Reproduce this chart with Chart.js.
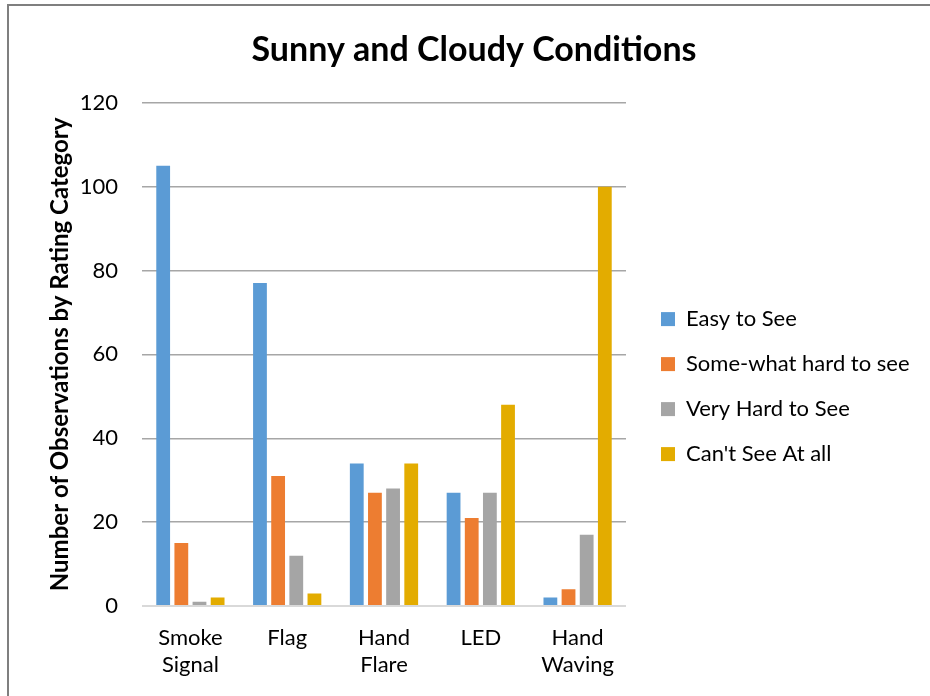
<!DOCTYPE html>
<html>
<head>
<meta charset="utf-8">
<script src="https://cdn.jsdelivr.net/npm/chart.js@4.4.1/dist/chart.umd.min.js"></script>
<style>
  html, body { margin: 0; padding: 0; background: #ffffff; }
  #wrap { position: relative; width: 930px; height: 696px; }
</style>
</head>
<body>
<div id="wrap"><canvas id="c" width="930" height="696"></canvas></div>
<script>
const categories = [["Smoke", "Signal"], "Flag", ["Hand", "Flare"], "LED", ["Hand", "Waving"]];
const seriesNames = ["Easy to See", "Some-what hard to see", "Very Hard to See", "Can't See At all"];
const easyToSee = [105, 77, 34, 27, 2];
const somewhatHard = [15, 31, 27, 21, 4];
const veryHard = [1, 12, 28, 27, 17];
const cantSee = [2, 3, 34, 48, 100];
const seriesColors = ["#5B9BD5", "#ED7D31", "#A5A5A5", "#E3AC00"];
const yTicks = [0, 20, 40, 60, 80, 100, 120];

const FONT = "Lato, 'Open Sans', sans-serif";

const frame = {
  id: 'frame',
  beforeDraw(chart) {
    const ctx = chart.ctx;
    ctx.save();
    ctx.fillStyle = '#ffffff';
    ctx.fillRect(0, 0, chart.width, chart.height);
    ctx.strokeStyle = '#7f7f7f';
    ctx.lineWidth = 2;
    ctx.beginPath();
    ctx.moveTo(8, chart.height);
    ctx.lineTo(8, 5);
    ctx.lineTo(chart.width, 5);
    ctx.stroke();
    ctx.restore();
  }
};

const allSeries = [easyToSee, somewhatHard, veryHard, cantSee];

new Chart(document.getElementById('c'), {
  type: 'bar',
  data: {
    labels: categories,
    datasets: allSeries.map((d, i) => ({
      label: seriesNames[i],
      data: d,
      backgroundColor: seriesColors[i],
      borderWidth: 0,
      yAxisID: 'y',
      categoryPercentage: 0.75,
      barPercentage: 0.76
    }))
  },
  options: {
    responsive: false,
    animation: false,
    devicePixelRatio: 1,
    layout: { padding: { left: 30, right: 12, top: 0, bottom: 17 } },
    plugins: {
      title: {
        display: true,
        text: 'Sunny and Cloudy Conditions',
        color: '#000000',
        font: { family: FONT, size: 34, weight: 'bold' },
        padding: { top: 30, bottom: 32 }
      },
      legend: {
        position: 'right',
        maxWidth: 280,
        title: { display: true, text: ' ', font: { size: 1 }, padding: { top: 46, bottom: 47 } },
        labels: {
          color: '#000000',
          font: { family: FONT, size: 22 },
          boxWidth: 14,
          boxHeight: 14,
          padding: 23
        }
      },
      tooltip: { enabled: false }
    },
    scales: {
      x: {
        afterFit(scale) { scale.height = 73; },
        grid: { display: false, drawTicks: false },
        border: { display: false },
        ticks: { color: '#000000', font: { family: FONT, size: 22, lineHeight: 1.23 }, padding: 18, maxRotation: 0, autoSkip: false }
      },
      y: {
        min: 0,
        max: 120,
        afterBuildTicks(scale) { scale.ticks = yTicks.map(v => ({ value: v })); },
        afterFit(scale) { scale.width = 112; },
        grid: {
          drawTicks: false,
          color: ctx => ctx.index === 0 ? '#d9d9d9' : '#a6a6a6',
          lineWidth: ctx => ctx.index === 0 ? 2 : 1.5
        },
        border: { display: false },
        ticks: { color: '#000000', font: { family: FONT, size: 22 }, padding: 24 },
        title: {
          display: true,
          text: 'Number of Observations by Rating Category',
          color: '#000000',
          font: { family: FONT, size: 24, weight: 'bold' },
          padding: { top: 16, bottom: 0 }
        }
      },
      gap: {
        position: 'right',
        display: true,
        afterFit(scale) { scale.width = 12; },
        grid: { display: false },
        border: { display: false },
        ticks: { display: false }
      }
    }
  },
  plugins: [frame]
});
</script>
</body>
</html>
